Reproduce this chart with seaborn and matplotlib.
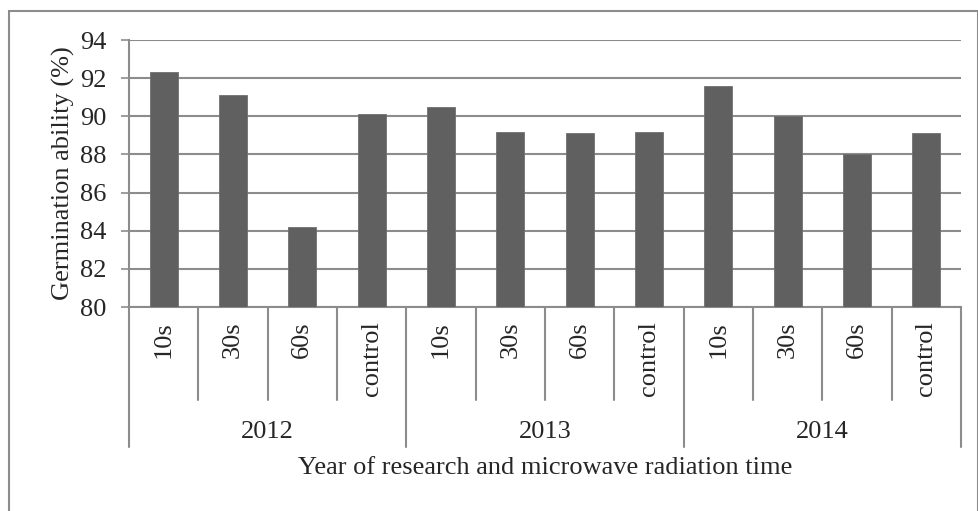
import matplotlib
matplotlib.use("Agg")
import matplotlib.pyplot as plt
import seaborn as sns
import pandas as pd
import numpy as np
from matplotlib.transforms import blended_transform_factory

years = ["2012", "2013", "2014"]
times = ["10s", "30s", "60s", "control"]
values_2012 = [92.3, 91.1, 84.2, 90.1]
values_2013 = [90.5, 89.2, 89.1, 89.2]
values_2014 = [91.6, 90.0, 88.0, 89.1]
y_ticks = [80, 82, 84, 86, 88, 90, 92, 94]

rows = []
for yr, vals in zip(years, [values_2012, values_2013, values_2014]):
    for t, v in zip(times, vals):
        rows.append({"key": f"{yr}-{t}", "year": yr, "time": t, "value": v})
df = pd.DataFrame(rows)

sns.set_theme(style="white")
plt.rcParams["font.family"] = ["Liberation Serif", "DejaVu Serif"]
FS = 19

W, H = 979, 511
fig = plt.figure(figsize=(W / 100, H / 100), dpi=100)
L, R, T, B = 129, 961, 40, 307
ax = fig.add_axes([L / W, 1 - B / H, (R - L) / W, (B - T) / H])

# outer border
border = plt.Rectangle((9 / W, -0.01), (978 - 9) / W, 1 - 11 / H + 0.01,
                       transform=fig.transFigure, fill=False,
                       edgecolor="#8c8c8c", linewidth=1.5)
fig.patches.append(border)

sns.barplot(data=df, x="key", y="value", color="#606060", width=0.4,
            saturation=1, ax=ax, edgecolor="#707070", linewidth=0.6, zorder=3)

ax.set_ylim(80, 94)
ax.set_xlim(-0.5, len(df) - 0.5)
ax.set_yticks(y_ticks)
ax.set_yticklabels([str(t) for t in y_ticks], fontsize=FS)
ax.yaxis.grid(True, color="#8c8c8c", linewidth=1.5, zorder=0)
ax.xaxis.grid(False)
ax.tick_params(axis="y", length=6, width=1.2, color="#8c8c8c", pad=10, left=True)
ax.tick_params(axis="x", bottom=False, labelbottom=False)
for s in ["top", "right"]:
    ax.spines[s].set_visible(False)
for s in ["left", "bottom"]:
    ax.spines[s].set_color("#8c8c8c")
    ax.spines[s].set_linewidth(1.5)
ax.set_xlabel("")
ax.set_ylabel("Germination ability (%)", fontsize=FS)
ax.yaxis.set_label_coords(-(L - 75) / (R - L), 0.5)

# multi-level category axis
trans = blended_transform_factory(ax.transData, fig.transFigure)
def fy(py):
    return 1 - py / H

n = len(df)
for i in range(n + 1):
    x = i - 0.5
    bottom = 447 if i % 4 == 0 else 400
    ax.plot([x, x], [fy(B), fy(bottom)], transform=trans, color="#8c8c8c",
            linewidth=1.5, clip_on=False)
for i, row in df.iterrows():
    ax.text(i, fy(321), row["time"], transform=trans, rotation=90,
            ha="center", va="top", fontsize=FS)
for j, yr in enumerate(years):
    ax.text(4 * j + 1.5, fy(432), yr, transform=trans, ha="center",
            va="center", fontsize=FS)
fig.text((L + R) / 2 / W, fy(468), "Year of research and microwave radiation time",
         ha="center", va="center", fontsize=FS)

fig.savefig("out.png", dpi=100)
